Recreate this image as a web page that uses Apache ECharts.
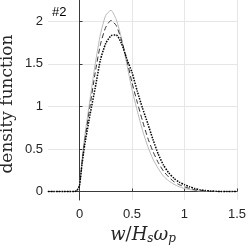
<!DOCTYPE html>
<html><head><meta charset="utf-8">
<script src="https://cdn.jsdelivr.net/npm/echarts@6/dist/echarts.min.js"></script>
<style>html,body{margin:0;padding:0;background:#fff}#c{width:249px;height:246px}</style>
</head><body><div id="c"></div>
<script>
const xs = [-0.3,-0.25,-0.2,-0.15,-0.1,-0.05,-0.025,0,0.025,0.05,0.1,0.15,0.2,0.25,0.3,0.35,0.4,0.45,0.5,0.55,0.6,0.65,0.7,0.75,0.8,0.85,0.9,0.95,1.0,1.05,1.1,1.15,1.2,1.25,1.3,1.35,1.4,1.45,1.5];
const greyY = [0,0,0,0,0,0,0.01,0.08,0.38,0.65,1.08,1.5,1.85,2.07,2.13,2.02,1.8,1.5,1.2,0.95,0.72,0.53,0.38,0.27,0.18,0.125,0.085,0.055,0.035,0.022,0.012,0.006,0.003,0,0,0,0,0,0];
const dashY = [0,0,0,0,0,0,0.01,0.07,0.35,0.6,1.0,1.4,1.73,1.93,2.01,1.95,1.78,1.55,1.28,1.05,0.83,0.63,0.47,0.34,0.24,0.17,0.115,0.08,0.054,0.035,0.02,0.011,0.005,0.002,0,0,0,0,0];
const blackY = [0,0,0,0,0,0,0.01,0.07,0.33,0.55,0.9,1.22,1.55,1.74,1.83,1.84,1.74,1.56,1.4,1.18,0.98,0.8,0.61,0.44,0.31,0.22,0.155,0.11,0.08,0.055,0.035,0.02,0.012,0.006,0.003,0,0,0,0];
const xTicks = [0,0.5,1,1.5];
const yTicks = [0,0.5,1,1.5,2];
const pairs = ys => xs.map((x,i)=>[x,ys[i]]);
const axisCol = '#262626';
const chart = echarts.init(document.getElementById('c'));
chart.setOption({
  animation:false,
  grid:{left:48,right:9,top:0,bottom:46,containLabel:false},
  xAxis:{type:'value',min:-0.3,max:1.5,splitNumber:4,
    axisLine:{show:true,lineStyle:{color:'#3a3a3a',width:1}},
    axisTick:{show:true,inside:true,length:3,lineStyle:{color:'#3a3a3a'}},
    axisLabel:{showMinLabel:false,color:axisCol,fontFamily:'Liberation Sans',fontSize:13,margin:8,
      formatter:v=>xTicks.includes(Math.round(v*100)/100)?String(v):''},
    splitLine:{show:true,showMinLine:false,lineStyle:{color:'#e6e6e6',width:1}}},
  yAxis:{type:'value',min:-0.1,max:2.25,splitNumber:5,
    axisLine:{show:true,lineStyle:{color:'#3a3a3a',width:1}},
    axisTick:{show:true,inside:true,length:3,lineStyle:{color:'#3a3a3a'}},
    axisLabel:{showMinLabel:false,showMaxLabel:false,color:axisCol,fontFamily:'Liberation Sans',fontSize:13,margin:5,
      formatter:v=>yTicks.includes(Math.round(v*100)/100)?String(v):''},
    splitLine:{show:true,showMinLine:false,showMaxLine:false,lineStyle:{color:'#e6e6e6',width:1}}},
  series:[
    {type:'line',data:pairs(greyY),showSymbol:false,smooth:0.2,lineStyle:{color:'#b8b8b8',width:1}},
    {type:'line',data:pairs(dashY),showSymbol:false,smooth:0.2,lineStyle:{color:'#333',width:1,type:[5,3]}},
    {type:'line',data:pairs(blackY),showSymbol:false,smooth:0.2,lineStyle:{color:'#000',width:1.5,type:[1.5,1.2]}}
  ],
  graphic:[
    {type:'text',left:52,top:6,style:{text:'#2',fontFamily:'Liberation Sans',fontSize:13,fill:'#000'}},
    {type:'text',x:8,y:104,rotation:Math.PI/2,style:{text:'density function',fontFamily:'DejaVu Serif',fontSize:17,fill:axisCol,align:'center',verticalAlign:'middle'}},
    {type:'text',x:143,y:235,style:{rich:{
        i:{fontFamily:'DejaVu Serif',fontStyle:'italic',fontSize:18,fill:axisCol},
        n:{fontFamily:'DejaVu Serif',fontSize:18,fill:axisCol},
        s:{fontFamily:'DejaVu Serif',fontStyle:'italic',fontSize:12,fill:axisCol,padding:[8,0,0,0]}},
      text:'{i|w}{n|/}{i|H}{s|s}{i|ω}{s|p}',align:'center',verticalAlign:'middle'}}
  ]
});
</script></body></html>
